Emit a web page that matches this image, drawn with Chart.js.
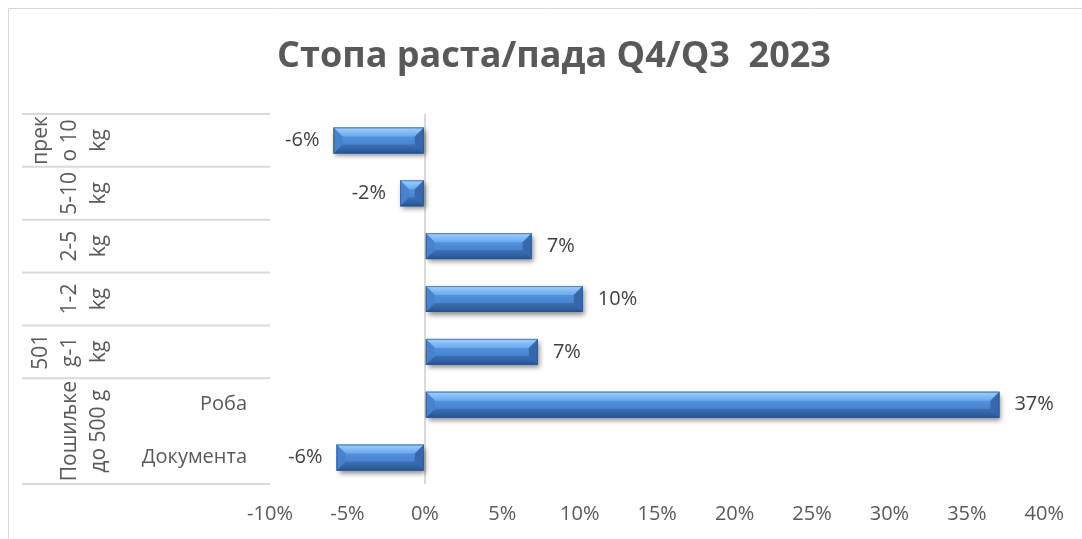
<!DOCTYPE html>
<html>
<head>
<meta charset="utf-8">
<script src="https://cdn.jsdelivr.net/npm/chart.js@4.4.1/dist/chart.umd.min.js"></script>
<style>
  html, body { margin: 0; padding: 0; background: #fff; overflow: hidden; }
  #wrap { width: 1082px; height: 539px; }
</style>
</head>
<body>
<div id="wrap"><canvas id="growth" width="1082" height="539"></canvas></div>
<script>
// data
const categories = ["преко 10 kg", "5-10 kg", "2-5 kg", "1-2 kg", "501 g-1 kg", "Роба", "Документа"];
const values = [-5.9, -1.6, 6.9, 10.2, 7.3, 37.1, -5.7];
const innerLabels = ["", "", "", "", "", "Роба", "Документа"];
const outerLines = [["прек", "о 10", "kg"], ["5-10", "kg"], ["2-5", "kg"], ["1-2", "kg"], ["501", "g-1", "kg"], ["Пошиљке", "до 500 g"]];
const outerRows = [[0], [1], [2], [3], [4], [5, 6]];
const xMin = -10, xMax = 40, xStep = 5;
const titleText = "Стопа раста/пада Q4/Q3  2023";

Chart.defaults.font.family = "'Open Sans', sans-serif";
Chart.defaults.color = "#595959";

function poly(ctx, pts, fill) {
  ctx.beginPath();
  ctx.moveTo(pts[0][0], pts[0][1]);
  for (let i = 1; i < pts.length; i++) ctx.lineTo(pts[i][0], pts[i][1]);
  ctx.closePath();
  ctx.fillStyle = fill;
  ctx.fill();
}

const frame = {
  id: "frame",
  beforeDraw(chart) {
    const c = chart.ctx;
    c.save();
    c.fillStyle = "#fff";
    c.fillRect(0, 0, chart.width, chart.height);
    c.strokeStyle = "#d9d9d9";
    c.lineWidth = 1;
    c.beginPath();
    c.moveTo(8.5, chart.height);
    c.lineTo(8.5, 8.5);
    c.lineTo(chart.width, 8.5);
    c.stroke();
    // title
    c.font = "bold 36px 'Open Sans', sans-serif";
    c.fillStyle = "#595959";
    c.textAlign = "center";
    c.textBaseline = "middle";
    c.fillText(titleText, 554, 57);
    c.restore();
  }
};

const catAxis = {
  id: "catAxis",
  afterDraw(chart) {
    const c = chart.ctx;
    const ys = chart.scales.y;
    const row = ys.getPixelForValue(1) - ys.getPixelForValue(0);
    c.save();
    // separators
    c.strokeStyle = "#d9d9d9";
    c.lineWidth = 2;
    const bounds = [];
    outerRows.forEach(r => bounds.push(ys.getPixelForValue(r[0]) - row / 2));
    bounds.push(ys.getPixelForValue(categories.length - 1) + row / 2);
    bounds.forEach(b => {
      c.beginPath();
      c.moveTo(22, b);
      c.lineTo(chart.chartArea.left, b);
      c.stroke();
    });
    c.fillStyle = "#595959";
    c.textBaseline = "middle";
    // outer rotated labels
    c.font = "21px 'Open Sans', sans-serif";
    outerLines.forEach((lines, g) => {
      const rs = outerRows[g];
      const yc = (ys.getPixelForValue(rs[0]) + ys.getPixelForValue(rs[rs.length - 1])) / 2;
      lines.forEach((t, i) => {
        const x = 99 - (lines.length - 1 - i) * 29;
        c.save();
        c.translate(x, yc);
        c.rotate(-Math.PI / 2);
        c.textAlign = "center";
        c.fillText(t, 0, 0);
        c.restore();
      });
    });
    // inner labels
    c.font = "20px 'Open Sans', sans-serif";
    c.textAlign = "right";
    innerLabels.forEach((t, i) => {
      if (t) c.fillText(t, 247, ys.getPixelForValue(i));
    });
    c.restore();
  }
};

const bevel = {
  id: "bevel",
  beforeDatasetsDraw(chart) {
    const c = chart.ctx;
    c.save();
    chart.getDatasetMeta(0).data.forEach(el => {
      const p = el.getProps(["x", "y", "base", "height"], true);
      const x0 = Math.min(p.x, p.base), x1 = Math.max(p.x, p.base);
      c.shadowColor = "rgba(0,0,0,0.45)";
      c.shadowBlur = 5;
      c.shadowOffsetX = 2;
      c.shadowOffsetY = 3;
      c.fillStyle = "#3a6fb4";
      c.fillRect(x0, p.y - p.height / 2, x1 - x0, p.height);
    });
    c.restore();
  },
  afterDatasetsDraw(chart) {
    const c = chart.ctx;
    c.save();
    chart.getDatasetMeta(0).data.forEach((el, i) => {
      const p = el.getProps(["x", "y", "base", "height"], true);
      const x0 = Math.min(p.x, p.base), x1 = Math.max(p.x, p.base);
      const y0 = p.y - p.height / 2, y1 = p.y + p.height / 2;
      const b = Math.min(9, (y1 - y0) / 2, (x1 - x0) / 2);
      const face = c.createLinearGradient(0, y0, 0, y1);
      face.addColorStop(0, "#62a1e8");
      face.addColorStop(0.5, "#4d8ad6");
      face.addColorStop(1, "#3c74bf");
      c.fillStyle = face;
      c.fillRect(x0, y0, x1 - x0, y1 - y0);
      const top = c.createLinearGradient(0, y0, 0, y0 + b);
      top.addColorStop(0, "#9fd0fb");
      top.addColorStop(1, "#68a8ee");
      poly(c, [[x0, y0], [x1, y0], [x1 - b, y0 + b], [x0 + b, y0 + b]], top);
      const bot = c.createLinearGradient(0, y1 - b, 0, y1);
      bot.addColorStop(0, "#3c72b8");
      bot.addColorStop(1, "#28548f");
      poly(c, [[x0, y1], [x1, y1], [x1 - b, y1 - b], [x0 + b, y1 - b]], bot);
      poly(c, [[x0, y0], [x0 + b, y0 + b], [x0 + b, y1 - b], [x0, y1]], "rgba(70,130,205,0.9)");
      poly(c, [[x1, y0], [x1 - b, y0 + b], [x1 - b, y1 - b], [x1, y1]], "rgba(52,100,168,0.9)");
      c.strokeStyle = "rgba(40,80,140,0.6)";
      c.lineWidth = 1;
      c.strokeRect(x0 + 0.5, y0 + 0.5, x1 - x0 - 1, y1 - y0 - 1);
      // value label
      const v = values[i];
      c.font = "20px 'Open Sans', sans-serif";
      c.fillStyle = "#404040";
      c.textBaseline = "middle";
      if (v >= 0) {
        c.textAlign = "left";
        c.fillText(Math.round(v) + "%", p.x + 15, p.y);
      } else {
        c.textAlign = "right";
        c.fillText(Math.round(v) + "%", p.x - 14, p.y);
      }
    });
    c.restore();
  }
};

new Chart(document.getElementById("growth"), {
  type: "bar",
  data: {
    labels: categories,
    datasets: [{
      label: "Стопа раста/пада",
      data: values,
      backgroundColor: "#4a86d3",
      borderWidth: 0,
      barPercentage: 0.49,
      categoryPercentage: 1
    }]
  },
  options: {
    indexAxis: "y",
    responsive: false,
    animation: false,
    layout: { padding: { top: 114, right: 30, bottom: 0, left: 0 } },
    plugins: { legend: { display: false }, tooltip: { enabled: false }, title: { display: false } },
    scales: {
      x: {
        min: xMin,
        max: xMax,
        ticks: {
          stepSize: xStep,
          padding: 18,
          color: "#595959",
          font: { size: 20 },
          callback: v => v + "%"
        },
        grid: {
          drawTicks: false,
          lineWidth: 2,
          color: ctx => (ctx.tick && ctx.tick.value === 0 ? "#d9d9d9" : "rgba(0,0,0,0)")
        },
        border: { display: false },
        afterFit: s => { s.height = 55; }
      },
      y: {
        ticks: { display: false },
        grid: { display: false, drawTicks: false },
        border: { display: false },
        afterFit: s => { s.width = 270; }
      }
    }
  },
  plugins: [frame, catAxis, bevel]
});
</script>
</body>
</html>
